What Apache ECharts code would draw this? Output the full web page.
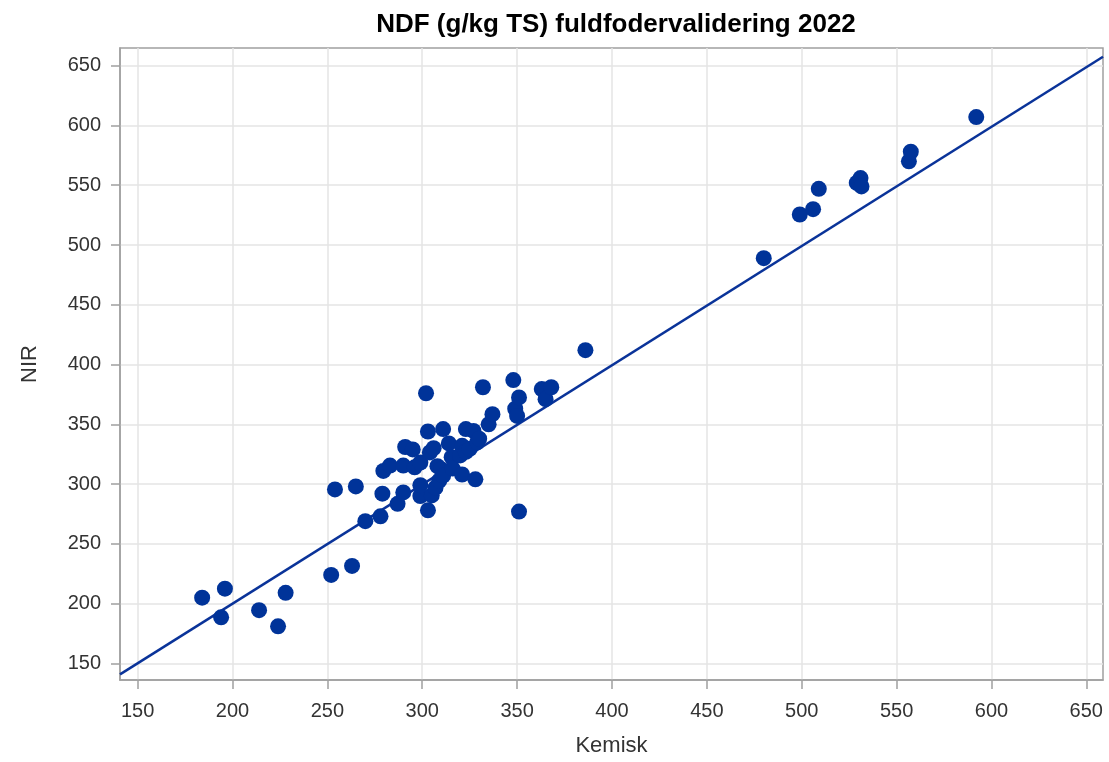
<!DOCTYPE html>
<html>
<head>
<meta charset="utf-8">
<title>NDF fuldfodervalidering 2022</title>
<script src="https://cdn.jsdelivr.net/npm/echarts@6/dist/echarts.min.js"></script>
<style>
  html, body { margin: 0; padding: 0; background: #fff; }
  #chart { width: 1109px; height: 762px; }
</style>
</head>
<body>
<div id="chart"></div>
<script>
// kemisk (x) vs NIR (y), g/kg TS
const kemisk = [
  184, 196, 194, 214, 224, 228, 252, 263,
  254, 265, 270, 278, 279, 279.5, 283, 287, 290, 290, 291, 295,
  296, 299, 299, 299, 302, 303, 303, 304, 306, 305, 307, 308,
  309, 310, 311, 311, 314, 315.5, 316, 320, 321, 321, 323, 323,
  325, 327, 328, 329, 330, 332, 335, 337, 348, 349, 350, 351,
  351, 363, 365, 368, 386,
  480, 499, 506, 509, 529, 531, 531.5, 556.5, 557.5, 592
]
const nir = [
  205, 212.5, 188.5, 194.5, 181, 209, 224, 231.5,
  295.5, 298, 269, 273, 292, 311, 315.5, 283.5, 293, 315.5, 331, 329,
  314, 318, 290, 299, 376, 344, 278, 326.5, 330, 290.5, 297, 315,
  303, 312.5, 346, 307, 334, 322.5, 313, 324, 332, 308, 346, 327,
  329.5, 344.5, 304, 335, 338, 381, 350, 358.5, 387, 363, 357, 372.5,
  277, 379.5, 371, 381, 412,
  489, 525.5, 530, 547, 552, 556, 549, 570, 578, 607
]
// fitted line endpoints at the plot edges
const fitLine = [[140.7, 140.8], [658.8, 657.5]]
const tickValues = [150, 200, 250, 300, 350, 400, 450, 500, 550, 600, 650]

const points = kemisk.map((x, i) => [x, nir[i]])

const chart = echarts.init(document.getElementById('chart'))

const axisCommon = {
  type: 'value',
  splitNumber: 10,
  axisLine: { show: true, lineStyle: { color: '#a0a0a0', width: 1.5 } },
  axisTick: { show: true, length: 9, customValues: tickValues, lineStyle: { color: '#a0a0a0', width: 1.5 } },
  splitLine: { show: true, lineStyle: { color: '#e4e4e4', width: 1.5 } },
  nameLocation: 'middle',
  nameTextStyle: { fontFamily: 'Liberation Sans', fontSize: 22, color: '#333' }
}

const option = {
  animation: false,
  backgroundColor: '#fff',
  title: {
    text: 'NDF (g/kg TS) fuldfodervalidering 2022',
    left: 611,
    top: 7,
    textAlign: 'center',
    textStyle: { fontFamily: 'Liberation Sans', fontSize: 26, fontWeight: 'bold', color: '#000' }
  },
  grid: {
    left: 120,
    right: 6,
    top: 48,
    bottom: 80,
    show: true,
    borderColor: '#a0a0a0',
    borderWidth: 1.5
  },
  xAxis: {
    ...axisCommon,
    min: 140.7,
    max: 658.8,
    name: 'Kemisk',
    nameGap: 55,
    axisLabel: {
      customValues: tickValues,
      margin: 21,
      fontFamily: 'Liberation Sans', fontSize: 20, color: '#333'
    }
  },
  yAxis: {
    ...axisCommon,
    min: 136.1,
    max: 664.8,
    name: 'NIR',
    nameGap: 79,
    axisLabel: {
      customValues: tickValues,
      margin: 19,
      fontFamily: 'Liberation Sans', fontSize: 20, color: '#333'
    }
  },
  series: [
    {
      name: 'Linje',
      type: 'line',
      data: fitLine,
      showSymbol: false,
      lineStyle: { color: '#0a3399', width: 2.5 },
      z: 3
    },
    {
      name: 'NDF',
      type: 'scatter',
      data: points,
      symbol: 'circle',
      symbolSize: 16,
      itemStyle: { color: '#003399', opacity: 1 },
      z: 4
    }
  ]
}

chart.setOption(option)
window.addEventListener('resize', () => chart.resize())
</script>
</body>
</html>
